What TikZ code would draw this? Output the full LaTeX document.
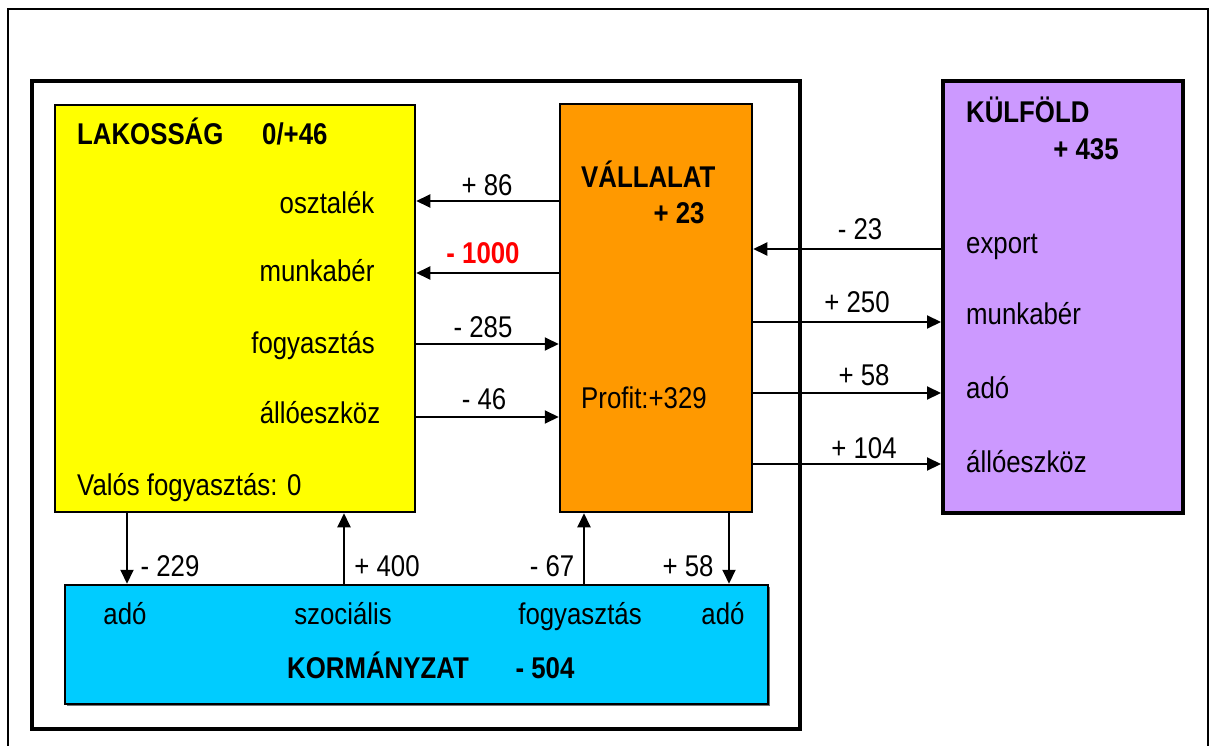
\documentclass[tikz,border=0pt]{standalone}
\usepackage{fontspec}
\setmainfont{Liberation Sans}[FakeStretch=0.86]
\usetikzlibrary{arrows.meta,shadows}
\definecolor{lakcol}{HTML}{FFFF00}
\definecolor{vallcol}{HTML}{FF9900}
\definecolor{kulfcol}{HTML}{CC99FF}
\definecolor{kormcol}{HTML}{00CCFF}
\definecolor{redcol}{HTML}{FF0000}
\begin{document}
\begin{tikzpicture}[x=1pt,y=-1pt,
  every node/.style={font=\fontsize{30}{35}\selectfont, inner sep=0pt, text height=21.5pt, text depth=0pt},
  bf/.style={font=\fontsize{30}{35}\selectfont\bfseries},
  box/.style={draw=black, line width=2.5pt, inner sep=0pt},
  arr/.style={line width=2pt, -{Triangle[length=14pt,width=13pt]}}]
\useasboundingbox (0,0) rectangle (1214,746);
% outer frame (runs off the bottom)
\draw[line width=2pt] (8,760) -- (8,9) -- (1208,9) -- (1208,760);
% inner frame
\node[box, line width=4pt, minimum width=768pt, minimum height=648pt] (frame) at (416,405) {};
% boxes
\node[box, fill=lakcol, minimum width=360pt, minimum height=407pt] (lak) at (235,308.5) {};
\node[box, fill=vallcol, minimum width=192pt, minimum height=408pt] (vall) at (656,308) {};
\node[box, fill=kulfcol, line width=4pt, minimum width=240pt, minimum height=432pt] (kulf) at (1063,297) {};
\node[box, fill=kormcol, minimum width=703pt, minimum height=119pt,
  drop shadow={shadow xshift=2pt,shadow yshift=-2pt,fill=black!55,opacity=1}] (korm) at (416.5,644.5) {};
% texts in LAKOSSAG
\node[bf, anchor=west] (lakT) at (77,134) {LAKOSSÁG};
\node[bf, anchor=west] (lakV) at (262,134) {0/+46};
\node (t1) at (327,203) {osztalék};
\node (t2) at (317,271) {munkabér};
\node (t3) at (313,343) {fogyasztás};
\node (t4) at (320,413) {állóeszköz};
\node[anchor=west] (t5) at (77,485) {Valós fogyasztás: 0};
% texts in VALLALAT
\node[bf, anchor=west] (vallT) at (581,177) {VÁLLALAT};
\node[bf] (vallV) at (679,213) {+ 23};
\node[anchor=west] (prof) at (581,398) {Profit:+329};
% texts in KULFOLD
\node[bf, anchor=west] (kT) at (966,112) {KÜLFÖLD};
\node[bf] (kV) at (1086,149) {+ 435};
\node[anchor=west] (k1) at (966,243) {export};
\node[anchor=west] (k2) at (966,314) {munkabér};
\node[anchor=west] (k3) at (966,388) {adó};
\node[anchor=west] (k4) at (966,462) {állóeszköz};
% texts in KORMANYZAT
\node (g1) at (125,614) {adó};
\node (g2) at (343,614) {szociális};
\node (g3) at (580,614) {fogyasztás};
\node (g4) at (723,614) {adó};
\node[bf] (gT) at (378,668) {KORMÁNYZAT};
\node[bf] (gV) at (545,668) {- 504};
% levels
\coordinate (y1) at (0,201);
\coordinate (y2) at (0,273);
\coordinate (y3) at (0,344);
\coordinate (y4) at (0,417);
\coordinate (z1) at (0,249);
\coordinate (z2) at (0,322);
\coordinate (z3) at (0,393);
\coordinate (z4) at (0,464);
\coordinate (x1) at (127,0);
\coordinate (x2) at (344,0);
\coordinate (x3) at (584,0);
\coordinate (x4) at (729,0);
% arrows
\draw[arr] (vall.west |- y1) -- (lak.east |- y1);
\draw[arr] (vall.west |- y2) -- (lak.east |- y2);
\draw[arr] (lak.east |- y3) -- (vall.west |- y3);
\draw[arr] (lak.east |- y4) -- (vall.west |- y4);
\draw[arr] (kulf.west |- z1) -- (vall.east |- z1);
\draw[arr] (vall.east |- z2) -- (kulf.west |- z2);
\draw[arr] (vall.east |- z3) -- (kulf.west |- z3);
\draw[arr] (vall.east |- z4) -- (kulf.west |- z4);
\draw[arr] (lak.south -| x1) -- (korm.north -| x1);
\draw[arr] (korm.north -| x2) -- (lak.south -| x2);
\draw[arr] (korm.north -| x3) -- (vall.south -| x3);
\draw[arr] (vall.south -| x4) -- (korm.north -| x4);
% arrow labels
\node (l1) at (487,185) {+ 86};
\node[bf, text=redcol] (l2) at (483,253) {- 1000};
\node (l3) at (483,327) {- 285};
\node (l4) at (484,399) {- 46};
\node (m1) at (860,229) {- 23};
\node (m2) at (857,302) {+ 250};
\node (m3) at (864,375) {+ 58};
\node (m4) at (864,448) {+ 104};
\node (n1) at (170,566) {- 229};
\node (n2) at (387,566) {+ 400};
\node (n3) at (552,566) {- 67};
\node (n4) at (688,566) {+ 58};
\end{tikzpicture}
\end{document}
